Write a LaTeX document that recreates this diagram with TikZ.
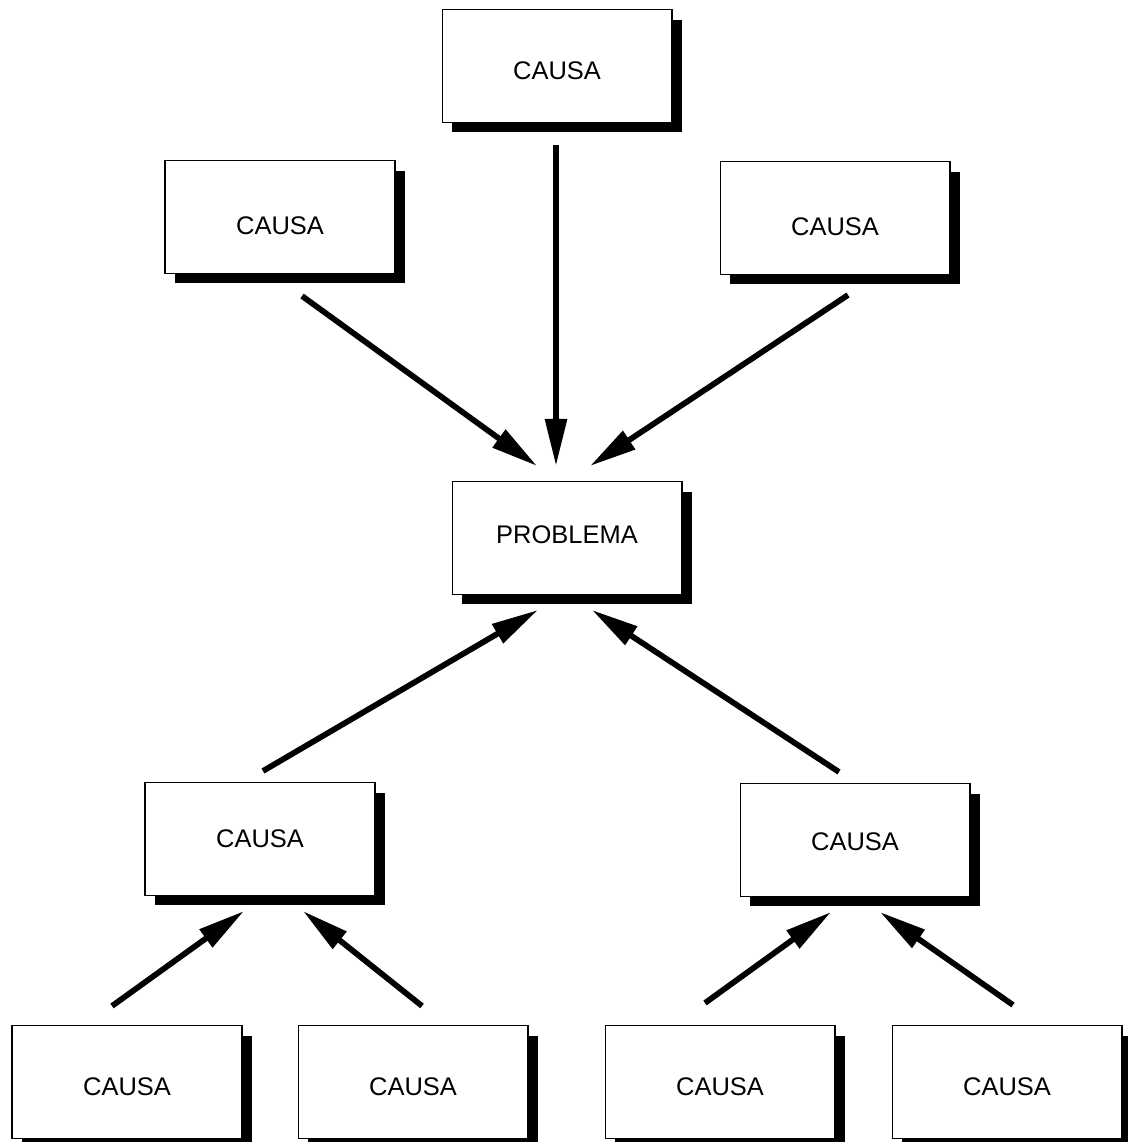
\documentclass[tikz,border=0pt]{standalone}
\usepackage{fontspec}
\setmainfont{Liberation Sans}
\usetikzlibrary{arrows.meta,shadows,calc}

\tikzset{
    causebox/.style={rectangle, draw, line width=0.6pt, fill=white,
        minimum width=4.6cm, minimum height=2.26cm,
        font=\fontsize{14.5}{17}\selectfont,
        drop shadow={shadow xshift=0.2cm, shadow yshift=-0.2cm, fill=black, opacity=1}},
    lowtext/.style={text height=#1},
    arr/.style={line width=0.115cm, -{Triangle[length=0.94cm, width=0.42cm]}}
}

\begin{document}
\begin{tikzpicture}[x=0.02cm, y=-0.02cm]
    \useasboundingbox (0,0) rectangle (1127,1142);

    % Upper causes
    \node[causebox, lowtext=15pt] (c1) at (557,66) {CAUSA};
    \node[causebox, lowtext=20.5pt] (c2) at (280,217) {CAUSA};
    \node[causebox, lowtext=20.5pt] (c3) at (835,218) {CAUSA};

    % Problem
    \node[causebox, text depth=3.4pt] (p) at (567,538) {PROBLEMA};

    % Lower causes
    \node[causebox] (c4) at (260,839) {CAUSA};
    \node[causebox, lowtext=12.5pt] (c5) at (855,840) {CAUSA};

    % Bottom causes
    \node[causebox, lowtext=16pt] (c6) at (127,1082) {CAUSA};
    \node[causebox, lowtext=16pt] (c7) at (413,1082) {CAUSA};
    \node[causebox, lowtext=16pt] (c8) at (720,1082) {CAUSA};
    \node[causebox, lowtext=16pt] (c9) at (1007,1082) {CAUSA};

    % Arrow ends
    \coordinate (s1) at ($(c1.south)+(-1,22)$);
    \coordinate (e1) at ($(p.north)+(-11,-15)$);
    \coordinate (s2) at ($(c2.south)+(22,22)$);
    \coordinate (e2) at ($(p.north)+(-30,-15)$);
    \coordinate (s3) at ($(c3.south)+(13,20)$);
    \coordinate (e3) at ($(p.north)+(23,-15)$);
    \coordinate (s4) at ($(c4.north)+(3,-11)$);
    \coordinate (e4) at ($(p.south)+(-29,15)$);
    \coordinate (s5) at ($(c5.north)+(-16,-11)$);
    \coordinate (e5) at ($(p.south)+(25,15)$);
    \coordinate (s6) at ($(c6.north)+(-15,-19)$);
    \coordinate (e6) at ($(c4.south)+(-16,15)$);
    \coordinate (s7) at ($(c7.north)+(9,-19)$);
    \coordinate (e7) at ($(c4.south)+(43,15)$);
    \coordinate (s8) at ($(c8.north)+(-15,-22)$);
    \coordinate (e8) at ($(c5.south)+(-24,15)$);
    \coordinate (s9) at ($(c9.north)+(6,-20)$);
    \coordinate (e9) at ($(c5.south)+(25,15)$);

    % Connections
    \draw[arr] (s1) -- (e1);
    \draw[arr] (s2) -- (e2);
    \draw[arr] (s3) -- (e3);
    \draw[arr] (s4) -- (e4);
    \draw[arr] (s5) -- (e5);
    \draw[arr] (s6) -- (e6);
    \draw[arr] (s7) -- (e7);
    \draw[arr] (s8) -- (e8);
    \draw[arr] (s9) -- (e9);
\end{tikzpicture}
\end{document}
